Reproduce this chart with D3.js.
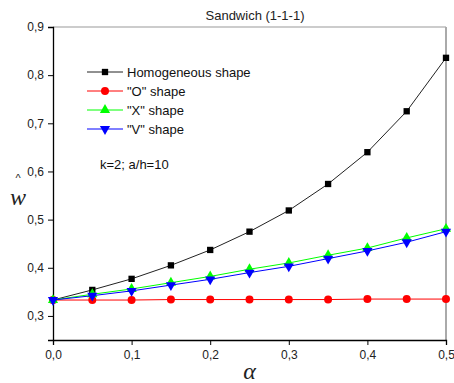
<!DOCTYPE html>
<html>
<head>
<meta charset="utf-8">
<script src="https://cdn.jsdelivr.net/npm/d3@7"></script>
<style>
  body { margin: 0; background: #fff; }
  svg { display: block; font-family: "Liberation Sans", Arial, sans-serif; }
</style>
</head>
<body>
<div id="chart"></div>
<script>
// chart data
const alphas = [0, 0.05, 0.1, 0.15, 0.2, 0.25, 0.3, 0.35, 0.4, 0.45, 0.5];
const homogeneous = [0.333, 0.354, 0.377, 0.405, 0.437, 0.475, 0.519, 0.574, 0.640, 0.725, 0.836];
const oShape = [0.333, 0.333, 0.333, 0.334, 0.334, 0.334, 0.334, 0.334, 0.335, 0.335, 0.335];
const xShape = [0.333, 0.345, 0.356, 0.369, 0.382, 0.397, 0.410, 0.426, 0.441, 0.462, 0.481];
const vShape = [0.333, 0.342, 0.352, 0.364, 0.376, 0.390, 0.403, 0.419, 0.435, 0.453, 0.475];
const seriesNames = ['Homogeneous shape', '"O" shape', '"X" shape', '"V" shape'];
const xTicks = [0, 0.1, 0.2, 0.3, 0.4, 0.5];
const yTicks = [0.3, 0.4, 0.5, 0.6, 0.7, 0.8, 0.9];

const width = 454, height = 383;
const margin = { top: 27, right: 8, bottom: 43, left: 53 };
const innerW = width - margin.left - margin.right;
const innerH = height - margin.top - margin.bottom;

const x = d3.scaleLinear().domain([0, 0.5]).range([0, innerW]);
const y = d3.scaleLinear().domain([0.25, 0.9]).range([innerH, 0]);
const fmt = d => d3.format('.1f')(d).replace('.', ',');

const svg = d3.select('#chart').append('svg')
  .attr('width', width)
  .attr('height', height);

const g = svg.append('g')
  .attr('transform', 'translate(' + margin.left + ',' + margin.top + ')');

// frame top and right (grey)
g.append('line').attr('x1', 0).attr('x2', innerW).attr('y1', 0).attr('y2', 0)
  .attr('stroke', '#999').attr('stroke-width', 1);
g.append('line').attr('x1', innerW).attr('x2', innerW).attr('y1', 0).attr('y2', innerH)
  .attr('stroke', '#aaa').attr('stroke-width', 2);

// x axis
const xAxis = g.append('g').attr('transform', 'translate(0,' + innerH + ')');
xAxis.call(d3.axisBottom(x).tickValues(d3.range(0.05, 0.5, 0.1)).tickSize(3).tickFormat(''));
xAxis.call(d3.axisBottom(x).tickValues(xTicks).tickSize(5).tickPadding(5).tickFormat(fmt));
xAxis.selectAll('.domain').attr('stroke', '#000').attr('stroke-width', 1.3);
xAxis.selectAll('text').attr('font-size', 12).attr('fill', '#222')
  .attr('font-family', '"Liberation Sans", Arial, sans-serif');

// y axis
const yAxis = g.append('g');
yAxis.call(d3.axisLeft(y).tickValues(d3.range(0.25, 0.9, 0.1)).tickSize(3).tickFormat(''));
yAxis.call(d3.axisLeft(y).tickValues(yTicks).tickSize(5).tickPadding(4).tickFormat(fmt));
yAxis.selectAll('.domain').attr('stroke', '#000').attr('stroke-width', 1.3);
yAxis.selectAll('text').attr('font-size', 12).attr('fill', '#222')
  .attr('font-family', '"Liberation Sans", Arial, sans-serif');

const series = [
  { name: seriesNames[0], values: homogeneous, color: '#000', line: '#222', symbol: d3.symbolSquare, size: 40, rot: 0 },
  { name: seriesNames[1], values: oShape, color: '#f00', line: '#f00', symbol: d3.symbolCircle, size: 50, rot: 0 },
  { name: seriesNames[2], values: xShape, color: '#0f0', line: '#0f0', symbol: d3.symbolTriangle, size: 45, rot: 0 },
  { name: seriesNames[3], values: vShape, color: '#00f', line: '#00f', symbol: d3.symbolTriangle, size: 45, rot: 180 }
];

const line = d3.line().x(d => x(d[0])).y(d => y(d[1]));

series.forEach(s => {
  const pts = alphas.map((a, i) => [a, s.values[i]]);
  g.append('path').datum(pts)
    .attr('d', line)
    .attr('fill', 'none')
    .attr('stroke', s.line)
    .attr('stroke-width', 1);
  g.selectAll(null).data(pts).enter().append('path')
    .attr('d', d3.symbol().type(s.symbol).size(s.size))
    .attr('transform', d => 'translate(' + x(d[0]) + ',' + y(d[1]) + ') rotate(' + s.rot + ')')
    .attr('fill', s.color);
});

// legend
const legend = svg.append('g').attr('transform', 'translate(87,72)');
series.forEach((s, i) => {
  const row = legend.append('g').attr('transform', 'translate(0,' + (i * 19) + ')');
  row.append('line').attr('x1', 0).attr('x2', 36).attr('y1', 0).attr('y2', 0)
    .attr('stroke', s.line).attr('stroke-width', 1);
  row.append('path')
    .attr('d', d3.symbol().type(s.symbol).size(s.size))
    .attr('transform', 'translate(18,0) rotate(' + s.rot + ')')
    .attr('fill', s.color);
  row.append('text').attr('x', 40).attr('y', 4.5)
    .attr('font-size', 13).attr('fill', '#111')
    .text(s.name);
});

svg.append('text').attr('x', 100).attr('y', 169)
  .attr('font-size', 13).attr('fill', '#111')
  .text('k=2; a/h=10');

// title
svg.append('text').attr('x', 255).attr('y', 20)
  .attr('text-anchor', 'middle').attr('font-size', 13).attr('fill', '#222')
  .text('Sandwich (1-1-1)');

// axis labels
svg.append('text').attr('x', margin.left + innerW / 2).attr('y', 379)
  .attr('text-anchor', 'middle')
  .attr('font-family', '"Liberation Serif", "Times New Roman", serif')
  .attr('font-style', 'italic').attr('font-size', 24).attr('fill', '#222')
  .text('α');

svg.append('text').attr('x', 18).attr('y', 205)
  .attr('text-anchor', 'middle')
  .attr('font-family', '"Liberation Serif", "Times New Roman", serif')
  .attr('font-style', 'italic').attr('font-size', 24).attr('fill', '#222')
  .text('w');
svg.append('text').attr('x', 18).attr('y', 182)
  .attr('text-anchor', 'middle')
  .attr('font-family', '"Liberation Sans", Arial, sans-serif')
  .attr('font-size', 11).attr('fill', '#222')
  .text('^');
</script>
</body>
</html>
